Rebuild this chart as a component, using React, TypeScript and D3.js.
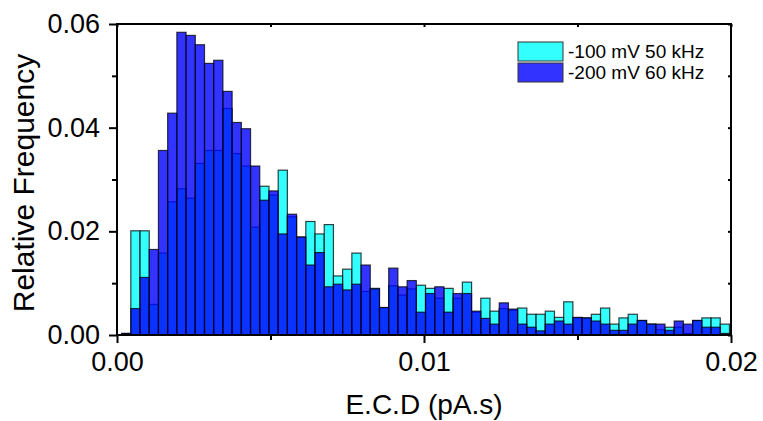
import React, { useRef, useEffect } from 'react';
import * as d3 from 'd3';

const WIDTH = 763;
const HEIGHT = 421;
const MARGIN = { top: 24, right: 32, bottom: 86, left: 117 };
const FONT = '"Liberation Sans", Arial, Helvetica, sans-serif';

// histogram bins: width 0.0003 pA.s, centred at k * 0.0003 (k = 1..66)
const BIN_WIDTH = 0.0003;
const binCenters = d3.range(1, 67).map(k => k * BIN_WIDTH);

// relative frequency per bin
const seriesNames = ['-100 mV 50 kHz', '-200 mV 60 kHz'];

const freq100mV = [
    0.0003, 0.0201, 0.0201, 0.0059, 0.0158, 0.0257, 0.0282, 0.0264, 0.0331, 0.0356,
    0.0356, 0.0437, 0.0350, 0.0326, 0.0208, 0.0287, 0.0270, 0.0318, 0.0228, 0.0189,
    0.0219, 0.0195, 0.0213, 0.0114, 0.0127, 0.0158, 0.0084, 0.0090, 0.0053, 0.0095,
    0.0077, 0.0089, 0.0096, 0.0090, 0.0071, 0.0090, 0.0071, 0.0102, 0.0044, 0.0071,
    0.0046, 0.0051, 0.0048, 0.0052, 0.0040, 0.0040, 0.0046, 0.0034, 0.0064, 0.0033,
    0.0033, 0.0040, 0.0052, 0.0021, 0.0033, 0.0040, 0.0028, 0.0021, 0.0010, 0.0015,
    0.0015, 0.0003, 0.0028, 0.0033, 0.0033, 0.0021,
];

const freq200mV = [
    0.0003, 0.0051, 0.0111, 0.0165, 0.0356, 0.0428, 0.0584, 0.0578, 0.0560, 0.0524,
    0.0530, 0.0470, 0.0410, 0.0398, 0.0326, 0.0260, 0.0278, 0.0195, 0.0233, 0.0189,
    0.0135, 0.0159, 0.0093, 0.0098, 0.0087, 0.0098, 0.0135, 0.0089, 0.0053, 0.0129,
    0.0093, 0.0105, 0.0044, 0.0080, 0.0093, 0.0044, 0.0080, 0.0080, 0.0046, 0.0032,
    0.0021, 0.0062, 0.0050, 0.0021, 0.0015, 0.0008, 0.0021, 0.0027, 0.0021, 0.0034,
    0.0033, 0.0027, 0.0021, 0.0009, 0.0009, 0.0021, 0.0028, 0.0021, 0.0021, 0.0009,
    0.0027, 0.0021, 0.0028, 0.0015, 0.0015, 0.0003,
];

const xMajorTicks = [0, 0.01, 0.02];
const xMinorTicks = [0.005, 0.015];
const yMajorTicks = [0, 0.02, 0.04, 0.06];
const yMinorTicks = [0.01, 0.03, 0.05];

const COLORS = ['rgba(0,255,255,0.8)', 'rgba(0,0,255,0.8)'];

export default function App() {
    const svgRef = useRef<SVGSVGElement>(null);

    useEffect(() => {
        const svg = d3.select(svgRef.current);
        svg.selectAll('*').remove();

        const x0 = MARGIN.left, x1 = WIDTH - MARGIN.right;
        const y0 = HEIGHT - MARGIN.bottom, y1 = MARGIN.top;

        const x = d3.scaleLinear().domain([0, 0.02]).range([x0, x1]);
        const y = d3.scaleLinear().domain([0, 0.06]).range([y0, y1]);

        svg.append('clipPath').attr('id', 'plot-clip')
            .append('rect')
            .attr('x', x0).attr('y', y1)
            .attr('width', x1 - x0).attr('height', y0 - y1);

        const bars = svg.append('g').attr('clip-path', 'url(#plot-clip)');

        [freq100mV, freq200mV].forEach((vals, si) => {
            bars.append('g')
                .selectAll('rect')
                .data(vals.map((v, i) => ({ c: binCenters[i], v })))
                .join('rect')
                .attr('x', d => x(d.c - BIN_WIDTH / 2))
                .attr('width', d => x(d.c + BIN_WIDTH / 2) - x(d.c - BIN_WIDTH / 2))
                .attr('y', d => y(d.v))
                .attr('height', d => y(0) - y(d.v))
                .attr('fill', COLORS[si])
                .attr('stroke', '#000')
                .attr('stroke-opacity', 0.75)
                .attr('stroke-width', 1.2);
        });

        const styleAxis = (g) => {
            g.select('.domain').remove();
            g.selectAll('line').attr('stroke', '#000').attr('stroke-width', 2);
            g.selectAll('text')
                .attr('fill', '#000')
                .attr('font-size', '27px')
                .attr('font-family', FONT);
        };

        // bottom axis
        svg.append('g')
            .attr('transform', `translate(0,${y0})`)
            .call(d3.axisBottom(x).tickValues(xMajorTicks).tickSize(8).tickPadding(8.8)
                .tickFormat(d3.format('.2f')))
            .call(styleAxis);
        svg.append('g')
            .attr('transform', `translate(0,${y0})`)
            .call(d3.axisBottom(x).tickValues(xMinorTicks).tickSize(5).tickFormat(() => ''))
            .call(styleAxis);

        // left axis
        svg.append('g')
            .attr('transform', `translate(${x0},0)`)
            .call(d3.axisLeft(y).tickValues(yMajorTicks).tickSize(8).tickPadding(9)
                .tickFormat(d3.format('.2f')))
            .call(styleAxis);
        svg.append('g')
            .attr('transform', `translate(${x0},0)`)
            .call(d3.axisLeft(y).tickValues(yMinorTicks).tickSize(5).tickFormat(() => ''))
            .call(styleAxis);

        // mirrored inward ticks on top / right
        svg.append('g')
            .attr('transform', `translate(0,${y1})`)
            .call(d3.axisBottom(x).tickValues([...xMajorTicks, ...xMinorTicks]).tickSize(3).tickFormat(() => ''))
            .call(styleAxis);
        svg.append('g')
            .attr('transform', `translate(${x1},0)`)
            .call(d3.axisLeft(y).tickValues([...yMajorTicks, ...yMinorTicks]).tickSize(3).tickFormat(() => ''))
            .call(styleAxis);

        // frame
        svg.append('rect')
            .attr('x', x0).attr('y', y1)
            .attr('width', x1 - x0).attr('height', y0 - y1)
            .attr('fill', 'none')
            .attr('stroke', '#000')
            .attr('stroke-width', 2);

        // axis titles
        svg.append('text')
            .attr('x', (x0 + x1) / 2).attr('y', 414)
            .attr('text-anchor', 'middle')
            .attr('font-family', FONT).attr('font-size', '28px')
            .text('E.C.D (pA.s)');

        svg.append('text')
            .attr('transform', `translate(34,183) rotate(-90)`)
            .attr('text-anchor', 'middle')
            .attr('font-family', FONT).attr('font-size', '30px')
            .text('Relative Frequency');

        // legend
        const legend = svg.append('g').attr('transform', 'translate(518,42)');
        seriesNames.forEach((name, i) => {
            legend.append('rect')
                .attr('x', 0).attr('y', i * 21)
                .attr('width', 45).attr('height', 19)
                .attr('fill', COLORS[i])
                .attr('stroke', '#333').attr('stroke-width', 1);
            legend.append('text')
                .attr('x', 50).attr('y', i * 21 + 16)
                .attr('font-family', FONT).attr('font-size', '19px')
                .attr('fill', '#000')
                .text(name);
        });
    }, []);

    return (
        <svg
            ref={svgRef}
            width={WIDTH}
            height={HEIGHT}
            style={{ position: 'absolute', left: 0, top: 0, display: 'block', background: '#fff' }}
        />
    );
}
